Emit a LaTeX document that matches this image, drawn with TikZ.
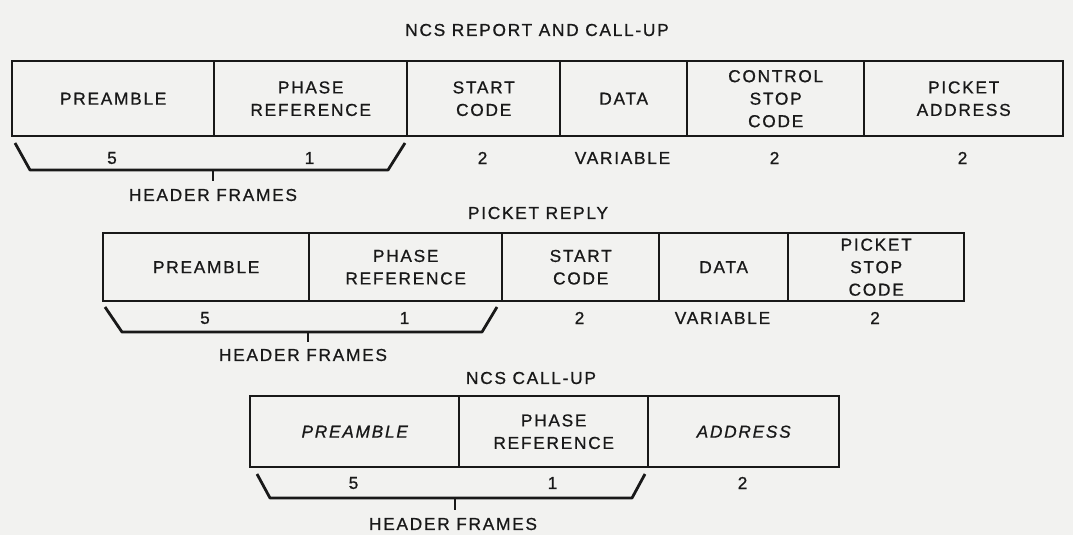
\documentclass[tikz,border=0pt]{standalone}
\usepackage{fontspec}
\setmainfont{Liberation Sans}[LetterSpace=10,FakeBold=0.8]
\usepackage{xcolor}
\usepackage{tikz}

\begin{document}
\begin{tikzpicture}[x=1pt,y=-1pt]
	% 颜色列表
	\definecolor{mypaper}{RGB}{242,242,240}
	\definecolor{myink}{RGB}{25,25,25}
	\tikzset{
		field/.style={draw=myink, line width=2.4pt, anchor=north west, inner sep=0pt,
			align=center, text=myink, font=\fontsize{17.3}{22.5}\selectfont},
		lbl/.style={text=myink, inner sep=0pt, font=\fontsize{17.3}{22.5}\selectfont},
		hbrace/.style={draw=myink, line width=2.8pt, line join=round}
	}
	\fill[mypaper] (0,0) rectangle (1073,535);
	\useasboundingbox (0,0) rectangle (1073,535);
	
	% 第一行
	\node[lbl] (t1) at (537,30) {NCS REPORT AND CALL-UP};
	\foreach \nm/\xa/\xb/\txt/\num in {pre1/11/213/PREAMBLE/5, ph1/213/406/{PHASE\\REFERENCE}/1,
		st1/406/559/{START\\CODE}/2, dat1/559/686/DATA/VARIABLE,
		ctl1/686/863/{CONTROL\\STOP\\CODE}/2, adr1/863/1062/{PICKET\\ADDRESS}/2}
	{
		\node[field, minimum width=\xb-\xa, minimum height=75] (\nm) at (\xa,60) {\txt};
		\node[lbl] (\nm n) at ({(\xa+\xb)/2},158) {\num};
	}
	\draw[hbrace] (15,143) -- (30,170) -- (388,170) -- (405,143);
	\draw[hbrace] (213,170) -- (213,181);
	\node[lbl] (hdr1) at (213,195) {HEADER FRAMES};
	
	% 第二行
	\node[lbl] (t2) at (538,213) {PICKET REPLY};
	\foreach \nm/\xa/\xb/\txt/\num in {pre2/102/308/PREAMBLE/5, ph2/308/501/{PHASE\\REFERENCE}/1,
		st2/501/658/{START\\CODE}/2, dat2/658/787/DATA/VARIABLE,
		stp2/787/963/{PICKET\\STOP\\CODE}/2}
	{
		\node[field, minimum width=\xb-\xa, minimum height=68] (\nm) at (\xa,232) {\txt};
		\node[lbl] (\nm n) at ({(\xa+\xb)/2},318) {\num};
	}
	\draw[hbrace] (105,307) -- (122,332) -- (482,332) -- (497,307);
	\draw[hbrace] (308,332) -- (308,342);
	\node[lbl] (hdr2) at (303,355) {HEADER FRAMES};
	
	% 第三行
	\node[lbl] (t3) at (531,378) {NCS CALL-UP};
	\foreach \nm/\xa/\xb/\txt/\num in {pre3/249/458/{\itshape PREAMBLE}/5,
		ph3/458/647/{PHASE\\REFERENCE}/1, adr3/647/838/{\itshape ADDRESS}/2}
	{
		\node[field, minimum width=\xb-\xa, minimum height=71] (\nm) at (\xa,395) {\txt};
		\node[lbl] (\nm n) at ({(\xa+\xb)/2},483) {\num};
	}
	\draw[hbrace] (257,474) -- (270,498) -- (632,498) -- (645,474);
	\draw[hbrace] (455,498) -- (455,510);
	\node[lbl] (hdr3) at (453,524) {HEADER FRAMES};
\end{tikzpicture}
\end{document}
